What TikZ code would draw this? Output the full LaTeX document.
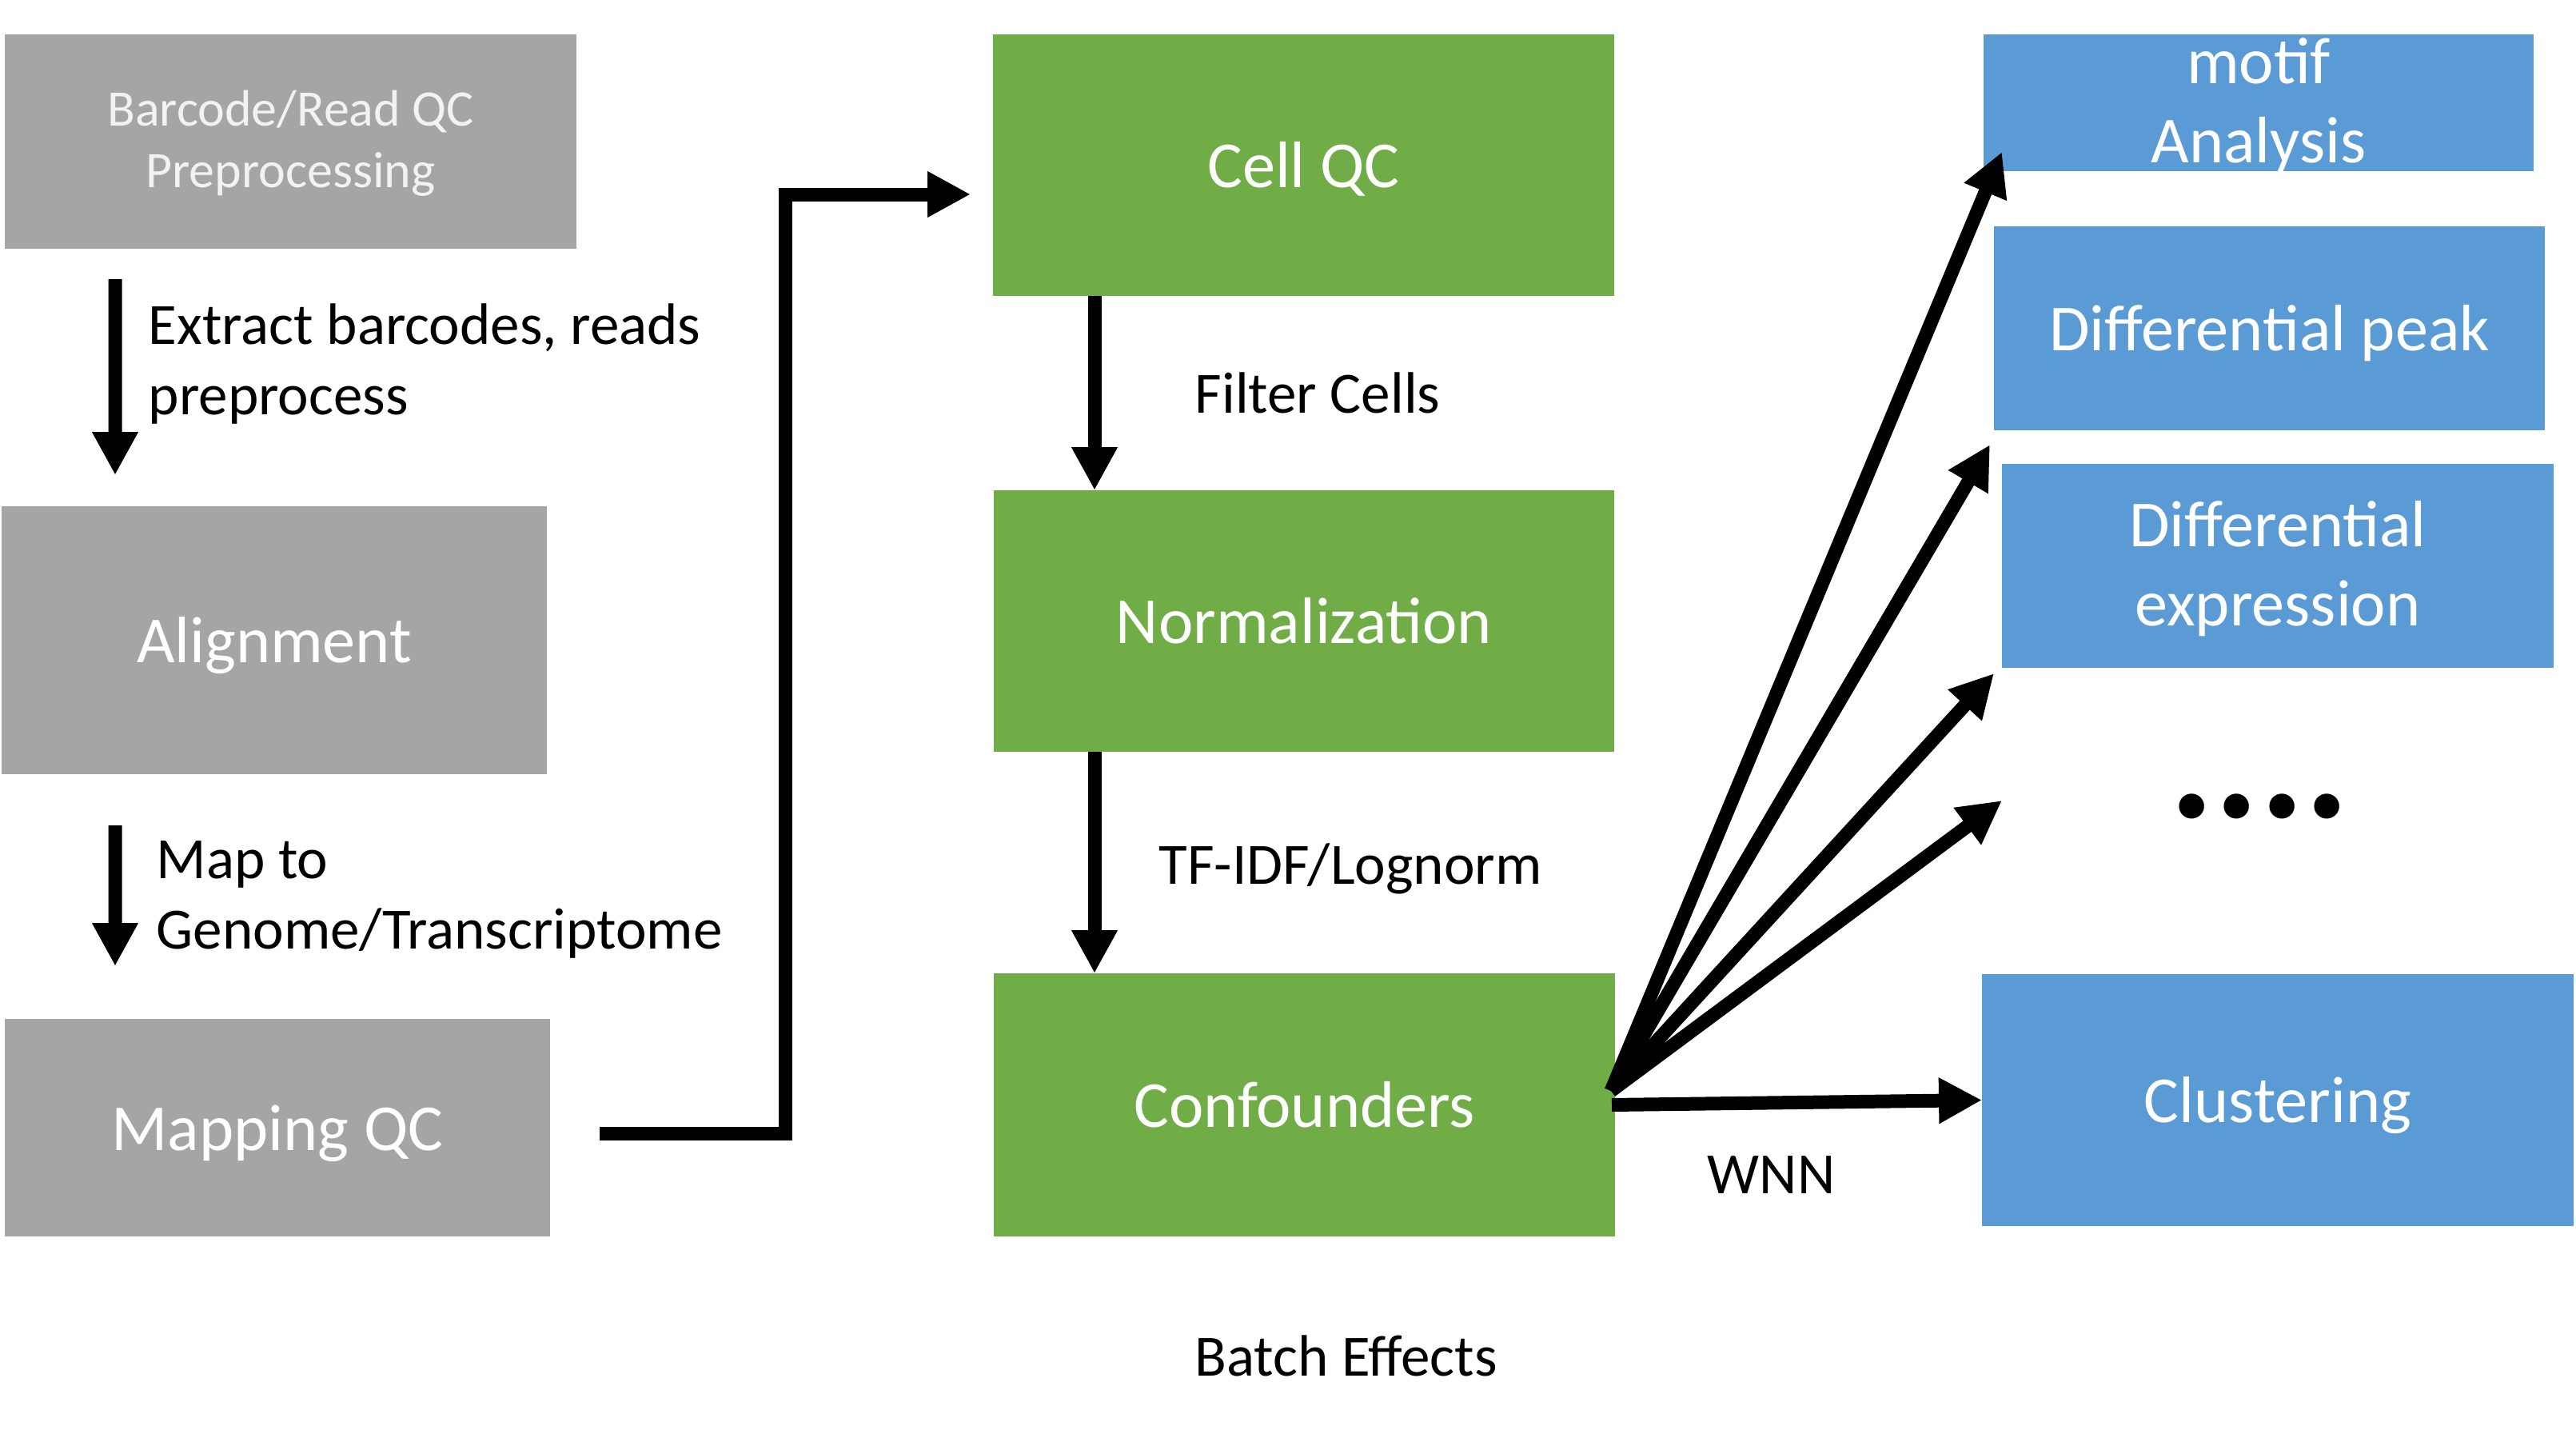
\documentclass[tikz,border=0pt]{standalone}
\usepackage{fontspec}
\setmainfont{Carlito}
\usetikzlibrary{arrows.meta}
\definecolor{boxgray}{HTML}{A5A5A5}
\definecolor{boxgreen}{HTML}{70AD47}
\definecolor{boxblue}{HTML}{5B9BD5}
\begin{document}
\begin{tikzpicture}[
  stage/.style={inner sep=0pt, outer sep=0pt, text=white, align=center, font=\fontsize{23.4}{28.2}\selectfont},
  oneline/.style={text height=0.76cm, text depth=0.2cm},
  twoline/.style={text depth=0.06cm},
  prestage/.style={stage, fill=boxgray},
  cellstage/.style={stage, fill=boxgreen},
  outstage/.style={stage, fill=boxblue},
  lbl/.style={inner sep=0pt, anchor=base west, align=left, font=\fontsize{20.8}{24.8}\selectfont},
  flow/.style={line width=0.17cm},
  arr/.style={flow, -{Triangle[length=0.54cm,width=0.54cm]}},
]
\useasboundingbox (0,0) rectangle (32.22,-17.87);

\node[prestage, twoline, minimum width=7.15cm, minimum height=2.68cm, text=white!95!black, font=\fontsize{18.2}{22}\selectfont] (barcode) at (3.635,-1.77) {Barcode/Read QC\\Preprocessing};
\node[prestage, oneline, minimum width=6.82cm, minimum height=3.35cm] (align) at (3.43,-8.005) {Alignment};
\node[prestage, oneline, minimum width=6.82cm, minimum height=2.72cm] (mapqc) at (3.47,-14.10) {Mapping QC};

\node[cellstage, oneline, minimum width=7.77cm, minimum height=3.27cm] (cellqc) at (16.305,-2.065) {Cell QC};
\node[cellstage, oneline, minimum width=7.76cm, minimum height=3.27cm] (norm) at (16.31,-7.765) {Normalization};
\node[cellstage, oneline, minimum width=7.77cm, minimum height=3.29cm] (conf) at (16.315,-13.815) {Confounders};

\node[outstage, twoline, minimum width=6.88cm, minimum height=1.71cm] (motif) at (28.25,-1.285) {motif\\Analysis};
\node[outstage, oneline, minimum width=6.89cm, minimum height=2.55cm] (dpeak) at (28.385,-4.105) {Differential peak};
\node[outstage, twoline, minimum width=6.90cm, minimum height=2.55cm] (dexpr) at (28.49,-7.075) {Differential\\expression};
\node[inner sep=0pt, anchor=base, font=\fontsize{60}{60}\selectfont\bfseries] (dots) at (28.26,-10.22) {....};
\node[outstage, oneline, minimum width=7.40cm, minimum height=3.15cm] (clust) at (28.49,-13.755) {Clustering};

\node[lbl] (extract) at (1.85,-5.18) {Extract barcodes, reads\\preprocess};
\node[lbl] (mapto) at (1.95,-11.86) {Map to\\Genome/Transcriptome};
\node[lbl] (filter) at (14.94,-5.16) {Filter Cells};
\node[lbl] (tfidf) at (14.49,-11.05) {TF-IDF/Lognorm};
\node[lbl] (wnn) at (21.35,-14.92) {WNN};
\node[lbl] (batch) at (14.94,-17.20) {Batch Effects};

% left column
\draw[arr] ([shift={(1.38,-0.38)}]barcode.south west) -- ([shift={(1.42,0.39)}]align.north west);
\draw[arr] ([shift={(1.42,-0.64)}]align.south west) -- ([shift={(1.38,0.66)}]mapqc.north west);
\draw[arr] ([shift={(0.62,-0.07)}]mapqc.east) -- ++(2.32,0) |- ([shift={(-0.28,-0.365)}]cellqc.west);

% middle column
\draw[arr] ([xshift=1.27cm]cellqc.south west) -- ([xshift=1.26cm]norm.north west);
\draw[arr] ([xshift=1.26cm]norm.south west) -- ([xshift=1.26cm]conf.north west);

% fan out
\coordinate (fan) at ([shift={(-0.05,0.175)}]conf.east);
\draw[arr] (fan) -- ([shift={(0.23,0.24)}]motif.south west);
\draw[arr] (fan) -- ([shift={(-0.05,-0.18)}]dpeak.south west);
\draw[arr] (fan) -- ([shift={(-0.10,-0.07)}]dexpr.south west);
\draw[arr] (fan) -- ([shift={(0.25,2.17)}]clust.north west);
\draw[arr] ([xshift=-0.04cm]conf.east) -- (clust.west);
\end{tikzpicture}
\end{document}
